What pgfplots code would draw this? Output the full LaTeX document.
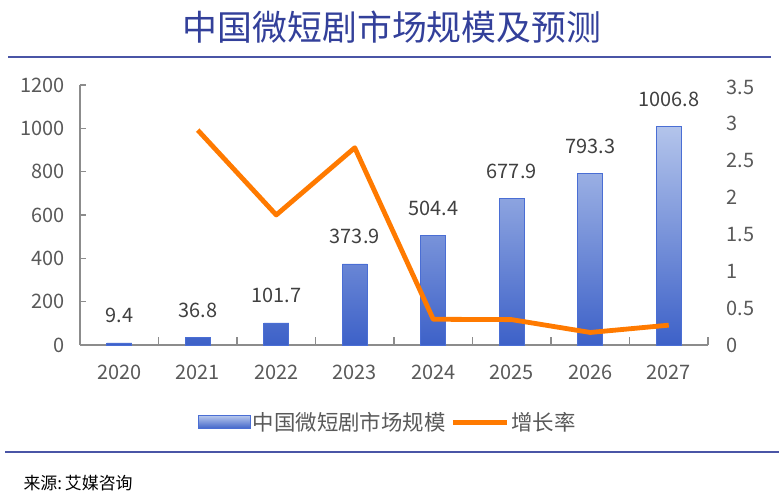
\documentclass[border=0pt]{standalone}
\usepackage{pgfplots}
\pgfplotsset{compat=1.18}
\usepackage{fontspec}
\setmainfont{Noto Sans CJK SC}
\definecolor{titleblue}{HTML}{33409A}
\definecolor{rulecol}{HTML}{4A55A6}
\definecolor{bartop}{HTML}{B3C4EB}
\definecolor{barbot}{HTML}{3D61C8}
\definecolor{barborder}{HTML}{4A6ED4}
\definecolor{lineorange}{HTML}{FF7A00}
\definecolor{axgray}{HTML}{8C8C8C}
\definecolor{txtgray}{HTML}{595959}
\definecolor{lblgray}{HTML}{404040}
\begin{document}
\begin{tikzpicture}[x=1bp,y=1bp]
\path[use as bounding box] (0,0) rectangle (779,501);
\node[font=\fontsize{35}{40}\selectfont, text=titleblue] at (392,474) {中国微短剧市场规模及预测};
\draw[rulecol, line width=2.5bp] (8,444) -- (771,444);
\draw[rulecol, line width=2bp] (5,49) -- (779,49);
\node[anchor=west, font=\fontsize{17}{20}\selectfont, text=black] at (20,18) {来源:\,艾媒咨询};
\begin{axis}[
  at={(80bp,156bp)}, anchor=south west,
  scale only axis, width=628bp, height=260bp,
  xmin=-0.5, xmax=7.5, ymin=0, ymax=1200,
  axis x line*=bottom, axis y line*=left,
  axis line style={-, draw=axgray, line width=1.2bp},
  tick align=inside,
  xtick={0,...,7},
  xticklabels={2020,2021,2022,2023,2024,2025,2026,2027},
  minor xtick={-0.5,0.5,...,7.5},
  major x tick style={draw=none},
  minor x tick style={draw=axgray, line width=1.2bp},
  minor tick length=8bp,
  major tick length=6bp,
  y tick style={draw=axgray, line width=1.2bp},
  ytick={0,200,400,600,800,1000,1200},
  yticklabels={0,200,400,600,800,1000,1200},
  ticklabel style={font=\fontsize{20}{24}\selectfont, text=txtgray},
  yticklabel style={xshift=-12bp},
  xticklabel style={yshift=-17bp},
  clip=false,
]
\addplot[ybar, bar width=25bp, draw=barborder, line width=0.9bp,
  top color=bartop, bottom color=barbot,
  nodes near coords, point meta=explicit symbolic,
  every node near coord/.append style={anchor=base, yshift=20bp, font=\fontsize{20}{24}\selectfont, text=lblgray}]
  coordinates {(0,9.4) [9.4] (1,36.8) [36.8] (2,101.7) [101.7] (3,373.9) [373.9]
               (4,504.4) [504.4] (5,677.9) [677.9] (6,793.3) [793.3] (7,1006.8) [1006.8]};
\end{axis}
\begin{axis}[
  at={(80bp,156bp)}, anchor=south west,
  scale only axis, width=628bp, height=258bp,
  xmin=-0.5, xmax=7.5, ymin=0, ymax=3.5,
  axis x line=none, axis y line*=right,
  y axis line style={draw=none},
  y tick style={draw=none},
  ytick={0,0.5,1,1.5,2,2.5,3,3.5},
  yticklabels={0,0.5,1,1.5,2,2.5,3,3.5},
  yticklabel style={font=\fontsize{20}{24}\selectfont, text=txtgray, anchor=west, xshift=15bp},
  clip=false,
  legend columns=2,
  legend style={at={(rel axis cs:0.49,-0.3)}, anchor=center, draw=none, fill=none,
    font=\fontsize{21.5}{24}\selectfont, text=txtgray,
    /tikz/every even column/.append style={column sep=3bp}},
]
\addlegendimage{legend image code/.code={\draw[draw=barborder, line width=0.9bp, top color=bartop, bottom color=barbot] (0bp,-6.5bp) rectangle (52bp,6.5bp);}}
\addlegendentry{中国微短剧市场规模}
\addplot[lineorange, line width=4.8bp, line join=round, mark=none,
  legend image code/.code={\draw[lineorange, line width=4.8bp] (0bp,0bp) -- (54bp,0bp);}]
  coordinates {(1,2.915) (2,1.764) (3,2.676) (4,0.349) (5,0.344) (6,0.170) (7,0.269)};
\addlegendentry{增长率}
\end{axis}
\end{tikzpicture}
\end{document}
